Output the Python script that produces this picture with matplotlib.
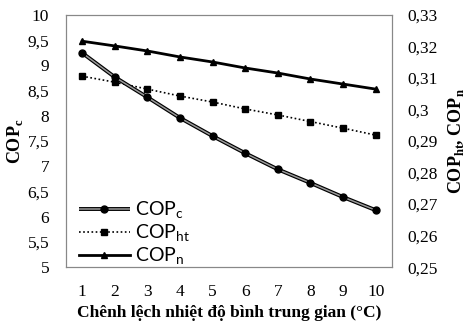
import matplotlib
matplotlib.use("Agg")
import matplotlib.pyplot as plt
from matplotlib.legend_handler import HandlerTuple

x = [1, 2, 3, 4, 5, 6, 7, 8, 9, 10]
cop_c = [9.25, 8.77, 8.37, 7.96, 7.60, 7.26, 6.94, 6.67, 6.39, 6.13]
cop_ht = [0.3106, 0.3087, 0.3065, 0.3043, 0.3024, 0.3002, 0.2983, 0.2962, 0.2941, 0.2919]
cop_n = [0.3217, 0.3202, 0.3186, 0.3167, 0.3151, 0.3132, 0.3116, 0.3097, 0.3081, 0.3065]

left_ticks = [5, 5.5, 6, 6.5, 7, 7.5, 8, 8.5, 9, 9.5, 10]
left_labels = ["5", "5,5", "6", "6,5", "7", "7,5", "8", "8,5", "9", "9,5", "10"]
right_ticks = [0.25, 0.26, 0.27, 0.28, 0.29, 0.30, 0.31, 0.32, 0.33]
right_labels = ["0,25", "0,26", "0,27", "0,28", "0,29", "0,3", "0,31", "0,32", "0,33"]

plt.rcParams['font.family'] = ['Liberation Serif', 'DejaVu Serif']
plt.rcParams['mathtext.fontset'] = 'custom'
plt.rcParams['mathtext.rm'] = 'Liberation Serif'
plt.rcParams['mathtext.bf'] = 'Liberation Serif:bold'

fig = plt.figure(figsize=(4.70, 3.27), dpi=100)
ax = fig.add_axes([0.140, 0.183, 0.694, 0.771])
ax2 = ax.twinx()

frame_color = "#888888"
for a in (ax, ax2):
    for s in a.spines.values():
        s.set_color(frame_color)
        s.set_linewidth(0.8)

# COP_c: double line (black outline, gray core) with black circle markers
c_out, = ax.plot(x, cop_c, color="black", lw=2.8, solid_capstyle="butt")
c_in, = ax.plot(x, cop_c, color="#9a9a9a", lw=1.1, solid_capstyle="butt")
c_mk, = ax.plot(x, cop_c, ls="none", marker="o", ms=5, mfc="black", mec="black")

l2, = ax2.plot(x, cop_ht, color="black", lw=1.2, ls=(0, (1, 1.5)), marker="s", ms=5,
               mfc="black", mec="black")
l3, = ax2.plot(x, cop_n, color="black", lw=2.0, marker="^", ms=5,
               mfc="black", mec="black")

ax.set_xlim(0.5, 10.5)
ax.set_ylim(5, 10)
ax2.set_ylim(0.25, 0.33)
ax.set_xticks(x)
ax.set_xticklabels([str(v) for v in x])
ax.set_yticks(left_ticks)
ax.set_yticklabels(left_labels)
ax2.set_yticks(right_ticks)
ax2.set_yticklabels(right_labels)

ax.tick_params(axis="y", length=0, labelsize=12.5, pad=12)
ax.tick_params(axis="x", length=0, labelsize=12.5, pad=12)
ax2.tick_params(axis="y", length=0, labelsize=12.5, pad=11)

ax.set_xlabel("Chênh lệch nhiệt độ bình trung gian (°C)", fontsize=12.5, fontweight="bold", labelpad=4)
ax.set_ylabel("COP$_\\mathbf{c}$", fontsize=13, fontweight="bold", labelpad=2)
ax2.set_ylabel("COP$_\\mathbf{ht}$, COP$_\\mathbf{n}$", fontsize=13, fontweight="bold", labelpad=6)

ax.set_zorder(ax2.get_zorder() + 1)
ax.patch.set_visible(False)

leg = ax.legend(handles=[(c_out, c_in, c_mk), l2, l3],
                labels=["COP$_\\mathregular{c}$", "COP$_\\mathregular{ht}$", "COP$_\\mathregular{n}$"],
                handler_map={tuple: HandlerTuple(ndivide=1, pad=0)},
                loc="lower left", frameon=False,
                prop={"family": "Lato", "size": 14}, handlelength=2.6,
                handletextpad=0.3, labelspacing=0.08, borderaxespad=0.2,
                bbox_to_anchor=(0.005, -0.045))

fig.savefig("out.png", dpi=100)
